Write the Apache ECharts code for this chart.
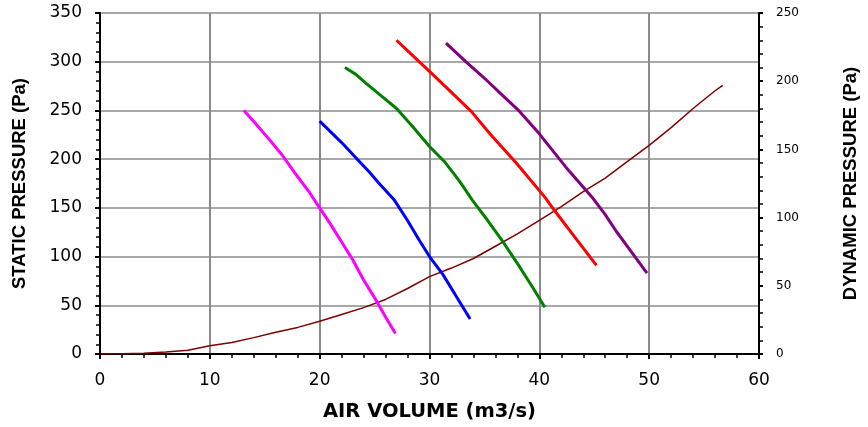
<!DOCTYPE html>
<html>
<head>
<meta charset="utf-8">
<script src="https://cdn.jsdelivr.net/npm/echarts@6/dist/echarts.min.js"></script>
<style>
html,body{margin:0;padding:0;background:#fff;}
#chart{width:868px;height:427px;}
</style>
</head>
<body>
<div id="chart"></div>
<script>
// Fan curves: [air volume (m3/s), static pressure (Pa)]
var magentaCurve = [[13.1,250],[14.2,236],[15.5,219],[16.6,204],[17.8,185],[19.0,167],[20,150],[21,133],[22,115],[23,97],[24,76],[25.2,54],[26.0,38],[26.9,21]];
var blueCurve = [[20,239],[21,228],[22,217],[23,205],[24,193],[24.5,187],[25.5,174],[26.8,158],[28,137],[29,118],[30,100],[31.2,82],[32.5,58],[33.7,36]];
var greenCurve = [[22.3,294],[23.3,287],[24.2,278],[25.5,266],[27,252],[28.5,233],[30,213],[31.4,197],[32.7,178],[33.9,158],[35.3,137],[36.7,115],[38,93],[39.3,70],[40.5,48]];
var redCurve = [[27,322],[28.5,306],[30,290],[31.5,274],[33.8,249],[35.5,226],[37.9,196],[40.5,161],[41.4,147],[43.3,119],[45.2,91]];
var purpleCurve = [[31.5,319],[33.3,300],[35.2,281],[36.7,265],[38.2,249],[40,226],[42.4,192],[44.8,161],[46,143],[47,126],[48.5,103],[49.8,83]];
// Dynamic pressure curve: [air volume (m3/s), dynamic pressure (Pa)] on right axis
var dynamicX = [0,2,4,6,8,10,12,14,16,18,20,22,24,26,28,30,32,34,36,38,40,42,44,46,48,50,52,54,56,56.7];
var dynamicY = [0,0.2,0.5,1.5,2.8,6,8.5,12,16,19.5,24,29,34,40,48,56.7,63,70,79,88,98,108,119,129,141,153,166,180,193,197];

var xTicks = [0,10,20,30,40,50,60];
var leftTicks = [0,50,100,150,200,250,300,350];
var rightTicks = [0,50,100,150,200,250];

var dynamicCurve = dynamicX.map(function(x,i){return [x, dynamicY[i]];});

var chart = echarts.init(document.getElementById('chart'), null, {renderer:'canvas'});
var xTitleFont = {fontFamily:'DejaVu Sans', fontWeight:'bold', fontSize:19.5, color:'#000'};
var yTitleFont = {fontFamily:'Liberation Sans, Arial', fontWeight:'bold', fontSize:18.5, color:'#000'};
var tickFont = {fontFamily:'DejaVu Sans', fontSize:17, color:'#000'};
function lineSeries(data, color, yIdx, width){
  return {type:'line', data:data, yAxisIndex:yIdx, symbol:'none', smooth:false,
    lineStyle:{color:color, width:width}, itemStyle:{color:color}, z: yIdx===1?2:3, animation:false};
}
chart.setOption({
  animation:false,
  backgroundColor:'#fff',
  grid:{left:100, right:108, top:13, bottom:73, containLabel:false},
  xAxis:{type:'value', min:xTicks[0], max:xTicks[xTicks.length-1], interval:10,
    name:'AIR VOLUME (m3/s)', nameLocation:'middle', nameGap:48, nameTextStyle:xTitleFont,
    axisLine:{show:true, onZero:false, lineStyle:{color:'#000', width:2}},
    axisTick:{show:true, inside:false, length:5, lineStyle:{color:'#000', width:2}},
    minorTick:{show:true, splitNumber:5, length:4, lineStyle:{color:'#000', width:1.5}},
    axisLabel:Object.assign({margin:18}, tickFont),
    splitLine:{show:true, lineStyle:{color:'#8a8a8a', width:2}}
  },
  yAxis:[{type:'value', min:leftTicks[0], max:leftTicks[leftTicks.length-1], interval:50, position:'left',
    name:'STATIC PRESSURE (Pa)', nameLocation:'middle', nameRotate:90, nameGap:71, nameTextStyle:yTitleFont,
    axisLine:{show:true, lineStyle:{color:'#000', width:2}},
    axisTick:{show:true, length:5, lineStyle:{color:'#000', width:2}},
    minorTick:{show:true, splitNumber:5, length:4, lineStyle:{color:'#000', width:1.5}},
    axisLabel:Object.assign({margin:18}, tickFont),
    splitLine:{show:true, lineStyle:{color:'#a8a8a8', width:2}}
  },{type:'value', min:rightTicks[0], max:rightTicks[rightTicks.length-1], interval:50, position:'right',
    name:'DYNAMIC PRESSURE (Pa)', nameLocation:'middle', nameRotate:90, nameGap:82, nameTextStyle:yTitleFont,
    axisLine:{show:true, lineStyle:{color:'#000', width:2}},
    axisTick:{show:true, length:4, lineStyle:{color:'#000', width:2}},
    minorTick:{show:true, splitNumber:5, length:4, lineStyle:{color:'#000', width:1.5}},
    axisLabel:{margin:17, fontFamily:'DejaVu Sans, Verdana', fontSize:12, color:'#000'},
    splitLine:{show:false}
  }],
  series:[
    lineSeries(dynamicCurve, '#800000', 1, 1.5),
    lineSeries(magentaCurve, '#ff00ff', 0, 3),
    lineSeries(blueCurve, '#0000ff', 0, 3),
    lineSeries(greenCurve, '#008000', 0, 3),
    lineSeries(redCurve, '#ff0000', 0, 3),
    lineSeries(purpleCurve, '#800080', 0, 3)
  ]
});
</script>
</body>
</html>
